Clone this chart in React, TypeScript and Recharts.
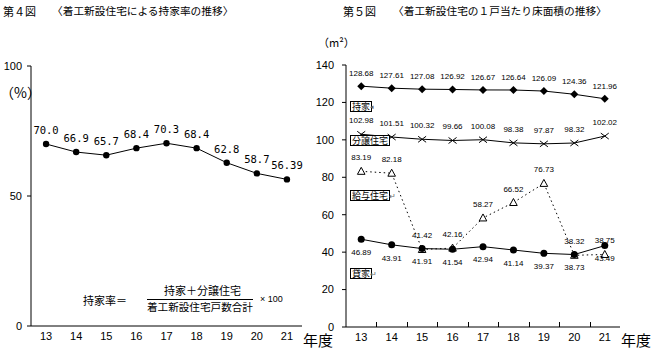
import React from 'react';
import { LineChart, Line, XAxis, YAxis, LabelList } from 'recharts';

const years = ['13', '14', '15', '16', '17', '18', '19', '20', '21'];
const ownershipRate = [70.0, 66.9, 65.7, 68.4, 70.3, 68.4, 62.8, 58.7, 56.39];
const ownershipRateLabels = ['70.0', '66.9', '65.7', '68.4', '70.3', '68.4', '62.8', '58.7', '56.39'];
const ownerOccupied = [128.68, 127.61, 127.08, 126.92, 126.67, 126.64, 126.09, 124.36, 121.96];
const forSale = [102.98, 101.51, 100.32, 99.66, 100.08, 98.38, 97.87, 98.32, 102.02];
const issuedHousing = [83.19, 82.18, 41.42, 42.16, 58.27, 66.52, 76.73, 38.32, 38.75];
const rental = [46.89, 43.91, 41.91, 41.54, 42.94, 41.14, 39.37, 38.73, 43.49];
const leftTicks = [0, 50, 100];
const rightTicks = [0, 20, 40, 60, 80, 100, 120, 140];

const leftData = years.map((y, i) => ({ year: y, rate: ownershipRate[i], label: ownershipRateLabels[i] }));
const rightData = years.map((y, i) => ({
  year: y,
  own: ownerOccupied[i],
  sale: forSale[i],
  issued: issuedHousing[i],
  rent: rental[i],
}));

const JP = '"Noto Sans CJK JP", "Noto Sans", sans-serif';
const NUM = '"Liberation Sans", Arial, sans-serif';
const MONO = '"DejaVu Sans Mono", "Liberation Mono", monospace';

const fmt2 = (v: any) => Number(v).toFixed(2);

// Right chart layout
const R_WIDTH = 350;
const R_MARGIN = { top: 65, right: 35, bottom: 13, left: 0 };
const R_YAXIS_W = 41;
const R_PLOT_W = R_WIDTH - R_MARGIN.left - R_MARGIN.right - R_YAXIS_W;

const Diamond = (p: any) => {
  const { cx, cy, index } = p;
  if (cx == null || cy == null) return <g key={index} />;
  return <path key={index} d={`M${cx},${cy - 4}L${cx + 4},${cy}L${cx},${cy + 4}L${cx - 4},${cy}Z`} fill="#000" />;
};
const Cross = (p: any) => {
  const { cx, cy, index } = p;
  if (cx == null || cy == null) return <g key={index} />;
  return (
    <path key={index} d={`M${cx - 4},${cy - 3}L${cx + 4},${cy + 3}M${cx - 4},${cy + 3}L${cx + 4},${cy - 3}`} stroke="#000" strokeWidth={1} fill="none" />
  );
};
const Tri = (p: any) => {
  const { cx, cy, index } = p;
  if (cx == null || cy == null) return <g key={index} />;
  return <path key={index} d={`M${cx},${cy - 4}L${cx + 3.8},${cy + 3}L${cx - 3.8},${cy + 3}Z`} stroke="#000" strokeWidth={1} fill="#fff" />;
};
const Dot = (r: number) => (p: any) => {
  const { cx, cy, index } = p;
  if (cx == null || cy == null) return <g key={index} />;
  return <circle key={index} cx={cx} cy={cy} r={r} fill="#000" />;
};

const TICK_MARGIN = 6;
// Category tick that also draws an inward tick mark at the band boundary (half a band from the tick centre)
function BoundaryTick(props: any) {
  const { x, y, payload, index } = props;
  const half = R_PLOT_W / years.length / 2;
  const axisY = Math.round(y - TICK_MARGIN);
  const bx = Math.round(x + half) + 0.5;
  const last = index >= years.length - 1;
  return (
    <g>
      {!last ? <line x1={bx} x2={bx} y1={axisY} y2={axisY - 5} stroke="#000" strokeWidth={1} /> : null}
      <text x={x} y={y} dy="0.71em" textAnchor="middle" fill="#000" fontSize={11} fontFamily={NUM}>
        {payload.value}
      </text>
    </g>
  );
}

const abs = (left: number, top: number, size: number, extra: any = {}) => ({
  position: 'absolute' as const,
  left,
  top,
  fontSize: size,
  lineHeight: 1,
  fontFamily: JP,
  color: '#000',
  whiteSpace: 'nowrap' as const,
  ...extra,
});

const boxStyle = (left: number, top: number) =>
  abs(left, top, 9, { border: '1px solid #000', padding: '0px 1px', lineHeight: '9px', background: '#fff' });

export default function App() {
  return (
    <div style={{ position: 'fixed', left: 0, top: 0, width: 655, height: 360, background: '#fff', overflow: 'hidden' }}>
      {/* Left chart */}
      <div style={{ position: 'absolute', left: 0, top: 0 }}>
        <LineChart width={330} height={360} data={leftData} margin={{ top: 66, right: 28, bottom: 14, left: 0 }} style={{ fontFamily: NUM }}>
          <XAxis xAxisId="top" orientation="top" dataKey="year" scale="band" height={0} tick={false} tickLine={false} axisLine={{ stroke: '#000' }} />
          <YAxis yAxisId="right" orientation="right" width={0} tick={false} tickLine={false} axisLine={{ stroke: '#000' }} domain={[0, 100]} />
          <XAxis
            dataKey="year"
            scale="band"
            height={20}
            tickLine={false}
            tickSize={0}
            tickMargin={6}
            axisLine={{ stroke: '#000' }}
            tick={{ fill: '#000', fontSize: 11, fontFamily: NUM }}
            interval={0}
          />
          <YAxis
            width={31}
            domain={[0, 100]}
            ticks={leftTicks}
            tickSize={4}
            tickMargin={5}
            axisLine={{ stroke: '#000' }}
            tickLine={{ stroke: '#000' }}
            tick={{ fill: '#000', fontSize: 11, fontFamily: NUM }}
            interval={0}
          />
          <Line dataKey="rate" stroke="#000" strokeWidth={1} dot={Dot(3.2)} activeDot={false} isAnimationActive={false}>
            <LabelList dataKey="label" position="top" offset={10} style={{ fill: '#000', fontSize: 10.5, fontFamily: MONO }} />
          </Line>
        </LineChart>
      </div>

      {/* Right chart */}
      <div style={{ position: 'absolute', left: 305, top: 0 }}>
        <LineChart width={R_WIDTH} height={360} data={rightData} margin={R_MARGIN} style={{ fontFamily: NUM }}>
          <XAxis xAxisId="top" orientation="top" dataKey="year" scale="band" height={0} tick={false} tickLine={false} axisLine={{ stroke: '#000' }} />
          <YAxis yAxisId="right" orientation="right" width={0} tick={false} tickLine={false} axisLine={{ stroke: '#000' }} domain={[0, 140]} />
          <XAxis
            dataKey="year"
            scale="band"
            height={20}
            tickLine={false}
            tickSize={0}
            tickMargin={TICK_MARGIN}
            axisLine={{ stroke: '#000' }}
            tick={(p: any) => <BoundaryTick {...p} />}
            interval={0}
          />
          <YAxis
            width={R_YAXIS_W}
            domain={[0, 140]}
            ticks={rightTicks}
            tickSize={4}
            tickMargin={8}
            axisLine={{ stroke: '#000' }}
            tickLine={{ stroke: '#000' }}
            tick={{ fill: '#000', fontSize: 11, fontFamily: NUM }}
            interval={0}
          />
          <Line dataKey="own" stroke="#000" strokeWidth={1} dot={Diamond} activeDot={false} isAnimationActive={false}>
            <LabelList dataKey="own" position="top" offset={10} formatter={fmt2} style={{ fill: '#000', fontSize: 8, fontFamily: NUM }} />
          </Line>
          <Line dataKey="sale" stroke="#000" strokeWidth={1} dot={Cross} activeDot={false} isAnimationActive={false}>
            <LabelList dataKey="sale" position="top" offset={11} formatter={fmt2} style={{ fill: '#000', fontSize: 8, fontFamily: NUM }} />
          </Line>
          <Line dataKey="issued" stroke="#000" strokeWidth={1} strokeDasharray="1.5 3" dot={Tri} activeDot={false} isAnimationActive={false}>
            <LabelList dataKey="issued" position="top" offset={11} formatter={fmt2} style={{ fill: '#000', fontSize: 8, fontFamily: NUM }} />
          </Line>
          <Line dataKey="rent" stroke="#000" strokeWidth={1} dot={Dot(3.5)} activeDot={false} isAnimationActive={false}>
            <LabelList dataKey="rent" position="bottom" offset={10} formatter={fmt2} style={{ fill: '#000', fontSize: 8, fontFamily: NUM }} />
          </Line>
        </LineChart>
      </div>

      {/* Titles */}
      <div style={abs(3, 6, 11)}>第４図</div>
      <div style={abs(52, 6, 10.7)}>〈着工新設住宅による持家率の推移〉</div>
      <div style={abs(343, 6, 11)}>第５図</div>
      <div style={abs(393, 6, 10.7)}>〈着工新設住宅の１戸当たり床面積の推移〉</div>

      {/* Units */}
      <div style={abs(0, 85, 14)}>（%）</div>
      <div style={abs(318, 37, 11)}>（m²）</div>

      {/* Year labels */}
      <div style={abs(303, 332, 15)}>年度</div>
      <div style={abs(621, 332, 15)}>年度</div>

      {/* Formula */}
      <div style={abs(83, 295, 11)}>持家率＝</div>
      <div style={abs(164, 285, 11)}>持家＋分譲住宅</div>
      <div style={{ position: 'absolute', left: 147, top: 299, width: 106, height: 1, background: '#000' }} />
      <div style={abs(147, 302, 10.6)}>着工新設住宅戸数合計</div>
      <div style={abs(260, 295, 9, { fontFamily: NUM })}>× 100</div>

      {/* Series boxes (right chart) */}
      <div style={boxStyle(350, 101)}>持家</div>
      <div style={abs(370, 103, 7, { color: '#666' })}>◂</div>
      <div style={boxStyle(350, 135)}>分譲住宅</div>
      <div style={boxStyle(350, 190)}>給与住宅</div>
      <div style={abs(389, 192, 8, { color: '#666' })}>↵</div>
      <div style={boxStyle(350, 268)}>貸家</div>
      <div style={abs(370, 270, 8, { color: '#666' })}>↵</div>
    </div>
  );
}
